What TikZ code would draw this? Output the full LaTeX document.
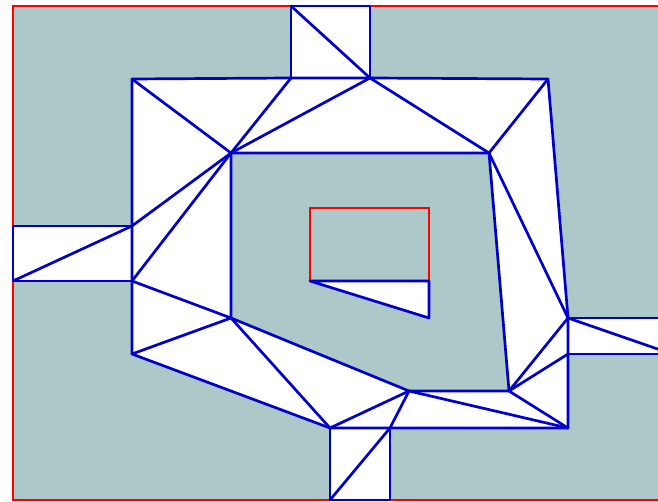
\documentclass[tikz,border=0pt]{standalone}
\begin{document}
\begin{tikzpicture}[x=1pt,y=-1pt,
  edge/.style={draw={rgb,255:red,0;green,0;blue,204},line width=2.7pt,line join=round,line cap=round},
  redline/.style={draw={rgb,255:red,255;green,0;blue,0},line width=2.3pt},
  teal/.style={fill={rgb,255:red,173;green,200;blue,200}}]
\useasboundingbox (0,0) rectangle (658,502);
\clip (0,0) rectangle (658,502);
% vertices
\coordinate (A) at (132,79);
\coordinate (B) at (291,78);
\coordinate (C) at (370,78);
\coordinate (D) at (548,79);
\coordinate (E) at (231,153);
\coordinate (F) at (489,153);
\coordinate (G) at (132,226);
\coordinate (H) at (132,281);
\coordinate (I) at (231,318);
\coordinate (J) at (132,354);
\coordinate (K) at (330,428);
\coordinate (L) at (409,391);
\coordinate (M) at (509,391);
\coordinate (N) at (568,318);
\coordinate (O) at (568,354);
\coordinate (P) at (568,428);
\coordinate (Q) at (390,428);
\coordinate (Bt) at (291,6);
\coordinate (Ct) at (370,6);
\coordinate (Gl) at (13,226);
\coordinate (Hl) at (13,281);
\coordinate (Nr) at (672,318);
\coordinate (Or) at (672,354);
\coordinate (Kb) at (330,500);
\coordinate (Qb) at (390,500);
\coordinate (R1) at (310,208);
\coordinate (R2) at (429,208);
\coordinate (R3) at (429,281);
\coordinate (R4) at (310,281);
\coordinate (R5) at (429,318);
% background
\fill[white] (0,0) rectangle (658,502);
\path[teal] (13,6) rectangle (672,500);
\draw[redline] (13,6) rectangle (672,500);
% white regions
\fill[white,even odd rule] (A) -- (B) -- (C) -- (D) -- (N) -- (O) -- (P) -- (Q) -- (K) -- (J) -- (H) -- (G) -- cycle
  (E) -- (F) -- (M) -- (L) -- (I) -- cycle;
\fill[white] (B) -- (Bt) -- (Ct) -- (C) -- cycle;
\fill[white] (G) -- (Gl) -- (Hl) -- (H) -- cycle;
\fill[white] (N) -- (Nr) -- (Or) -- (O) -- cycle;
\fill[white] (K) -- (Q) -- (Qb) -- (Kb) -- cycle;
\fill[white] (R4) -- (R3) -- (R5) -- cycle;
% hole
\draw[redline] (R4) -- (R1) -- (R2) -- (R3);
% outer boundary
\draw[edge] (A) -- (B) -- (C) -- (D) -- (N) -- (O) -- (P) -- (Q) -- (K) -- (J) -- (H) -- (G) -- cycle;
% inner boundary
\draw[edge] (E) -- (F) -- (M) -- (L) -- (I) -- cycle;
% boxes
\draw[edge] (B) -- (Bt) -- (Ct) -- (C);
\draw[edge] (Bt) -- (C);
\draw[edge] (G) -- (Gl) -- (Hl) -- (H);
\draw[edge] (Hl) -- (G);
\draw[edge] (N) -- (Nr);
\draw[edge] (O) -- (Or);
\draw[edge] (N) -- (Or);
\draw[edge] (K) -- (Kb) -- (Qb) -- (Q);
\draw[edge] (Kb) -- (Q) -- (L);
% hole triangle
\draw[edge] (R4) -- (R3) -- (R5) -- cycle;
% triangulation
\draw[edge] (A) -- (E);
\draw[edge] (B) -- (E);
\draw[edge] (C) -- (E);
\draw[edge] (C) -- (F);
\draw[edge] (D) -- (F);
\draw[edge] (F) -- (N);
\draw[edge] (G) -- (E);
\draw[edge] (H) -- (E);
\draw[edge] (H) -- (I);
\draw[edge] (J) -- (I);
\draw[edge] (I) -- (K);
\draw[edge] (K) -- (L);
\draw[edge] (L) -- (P);
\draw[edge] (M) -- (P);
\draw[edge] (M) -- (O);
\draw[edge] (M) -- (N);
\end{tikzpicture}
\end{document}
